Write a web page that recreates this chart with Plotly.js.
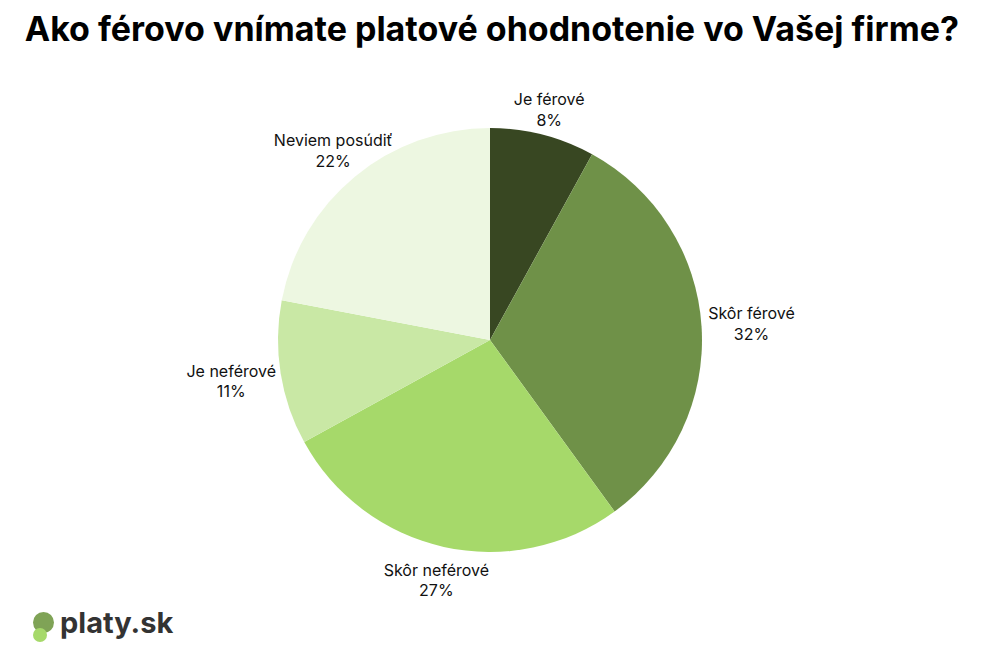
<!DOCTYPE html>
<html>
<head>
<meta charset="utf-8">
<script src="https://cdn.plot.ly/plotly-3.0.1.min.js"></script>
<style>html,body{margin:0;padding:0;background:#fff;}#chart{width:991px;height:653px;}</style>
</head>
<body>
<div id="chart"></div>
<script>
const categories = ["Je férové", "Skôr férové", "Skôr neférové", "Je neférové", "Neviem posúdiť"];
const shares = [8, 32, 27, 11, 22];
const sliceColors = ["#384722", "#6f9148", "#a6d96a", "#c9e8a5", "#edf7e1"];
const chartTitle = "Ako férovo vnímate platové ohodnotenie vo Vašej firme?";
const logoText = "platy.sk";
// which label ring each slice's label sits on (side labels further out, top label closer in)
const labelRingOf = ["near", "far", "mid", "far", "mid"];

const labelTpl = "%{label}<br>%{value}%";
const clear = categories.map(() => "rgba(0,0,0,0)");

// the pie itself
const pieTrace = {
  type: "pie",
  labels: categories,
  values: shares,
  sort: false,
  direction: "clockwise",
  rotation: 0,
  marker: {colors: sliceColors, line: {width: 0}},
  textinfo: "none",
  hoverinfo: "skip",
  automargin: false,
  domain: {x: [0.2422, 0.7467], y: [0.1547, 0.8040]},
  showlegend: false
};

// transparent rings carrying the data labels, centred radially on each slice
function labelRing(ringName, hole, domain) {
  return {
    type: "pie",
    labels: categories,
    values: shares,
    sort: false,
    direction: "clockwise",
    rotation: 0,
    hole: hole,
    marker: {colors: clear, line: {width: 0}},
    textposition: "inside",
    insidetextorientation: "horizontal",
    texttemplate: labelRingOf.map(r => r === ringName ? labelTpl : ""),
    textfont: {family: "Inter, sans-serif", size: 16, color: "#111111"},
    hoverinfo: "skip",
    automargin: false,
    domain: domain,
    showlegend: false
  };
}

const farRing = labelRing("far", 0.6741, {x: [177/991, 803/991], y: [0, 626/653]});
const midRing = labelRing("mid", 0.5922, {x: [0.18264, 0.80626], y: [0.00613, 0.9525]});
const nearRing = labelRing("near", 0.688, {x: [208/991, 772/991], y: [0.04747, 0.91118]});

const layout = {
  width: 991,
  height: 653,
  margin: {l: 0, r: 0, t: 0, b: 0},
  paper_bgcolor: "#ffffff",
  plot_bgcolor: "#ffffff",
  uniformtext: {mode: "show", minsize: 16},
  title: {
    text: "<b>" + chartTitle + "</b>",
    font: {family: "Inter, sans-serif", size: 34, color: "#000000"},
    x: 0.025, xanchor: "left", xref: "paper",
    y: 1 - 29/653, yanchor: "middle", yref: "container"
  },
  shapes: [
    {type: "circle", xref: "paper", yref: "paper", x0: 33/991, x1: 54/991, y0: 1-633/653, y1: 1-612/653, fillcolor: "#7fa356", line: {width: 0}},
    {type: "circle", xref: "paper", yref: "paper", x0: 33/991, x1: 47/991, y0: 1-642/653, y1: 1-628/653, fillcolor: "#a6d96a", line: {width: 0}}
  ],
  annotations: [
    {text: "<b>" + logoText + "</b>", xref: "paper", yref: "paper", x: 58/991, y: 1-622/653, xanchor: "left", yanchor: "middle", showarrow: false, font: {family: "Inter, sans-serif", size: 29, color: "#333333"}}
  ]
};

Plotly.newPlot("chart", [pieTrace, farRing, midRing, nearRing], layout, {displayModeBar: false, staticPlot: true});
</script>
</body>
</html>
